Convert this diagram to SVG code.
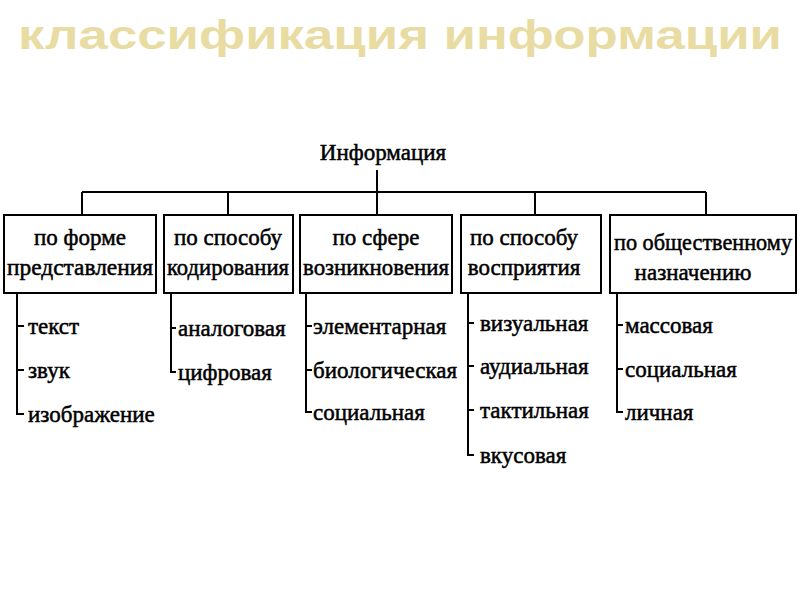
<svg xmlns="http://www.w3.org/2000/svg" width="800" height="600" viewBox="0 0 800 600">
<style>
.t{font-family:"Liberation Serif",serif;font-size:23px;fill:#000;stroke:#000;stroke-width:0.5}
.c{text-anchor:middle}
.b{fill:#fff;stroke:#000;stroke-width:2}
.l{fill:none;stroke:#000;stroke-width:2}
</style>
<rect width="800" height="600" fill="#fff"/>
<text x="400" y="49" text-anchor="middle" font-family="Liberation Sans,sans-serif" font-weight="bold" font-size="40" fill="#e8dca2" textLength="764" lengthAdjust="spacingAndGlyphs">классификация информации</text>
<g id="connectors">
<path class="l" d="M377 170V192M82 192H706M82 192V215M228 192V215M377 192V215M535 192V215M706 192V215"/>
<path class="l" d="M17 293V414H24M17 326H24M17 370H24"/>
<path class="l" d="M171 293V372H176M171 328H176"/>
<path class="l" d="M306 293V412H312M306 326H312M306 370H312"/>
<path class="l" d="M468 293V455H474M468 323H474M468 366H474M468 410H474"/>
<path class="l" d="M617 293V412H623M617 325H623M617 369H623"/>
</g>
<g id="root"><text class="t c" x="383" y="160" font-size="24">Информация</text></g>
<g id="n1"><rect class="b" x="4" y="215" width="152" height="78"/><text class="t c" x="80" y="245">по форме</text><text class="t c" x="80" y="275" textLength="146" lengthAdjust="spacingAndGlyphs">представления</text></g>
<g id="n2"><rect class="b" x="164" y="215" width="129" height="78"/><text class="t c" x="228" y="245">по способу</text><text class="t c" x="228" y="275" textLength="122" lengthAdjust="spacingAndGlyphs">кодирования</text></g>
<g id="n3"><rect class="b" x="300" y="215" width="152" height="78"/><text class="t c" x="376" y="245">по сфере</text><text class="t c" x="376" y="275" textLength="146" lengthAdjust="spacingAndGlyphs">возникновения</text></g>
<g id="n4"><rect class="b" x="461" y="215" width="140" height="78"/><text class="t c" x="524" y="245">по способу</text><text class="t c" x="524" y="275">восприятия</text></g>
<g id="n5"><rect class="b" x="610" y="215" width="186" height="78"/><text class="t c" x="703" y="250" textLength="178" lengthAdjust="spacingAndGlyphs">по общественному</text><text class="t c" x="693" y="280">назначению</text></g>
<g id="leaves" class="t">
<text x="28" y="334">текст</text><text x="28" y="378">звук</text><text x="28" y="422">изображение</text>
<text x="178" y="336">аналоговая</text><text x="178" y="380">цифровая</text>
<text x="313" y="334">элементарная</text><text x="313" y="378">биологическая</text><text x="313" y="420">социальная</text>
<text x="480" y="331">визуальная</text><text x="480" y="374">аудиальная</text><text x="480" y="418">тактильная</text><text x="480" y="463">вкусовая</text>
<text x="625" y="333">массовая</text><text x="625" y="377">социальная</text><text x="625" y="420">личная</text>
</g>
</svg>
